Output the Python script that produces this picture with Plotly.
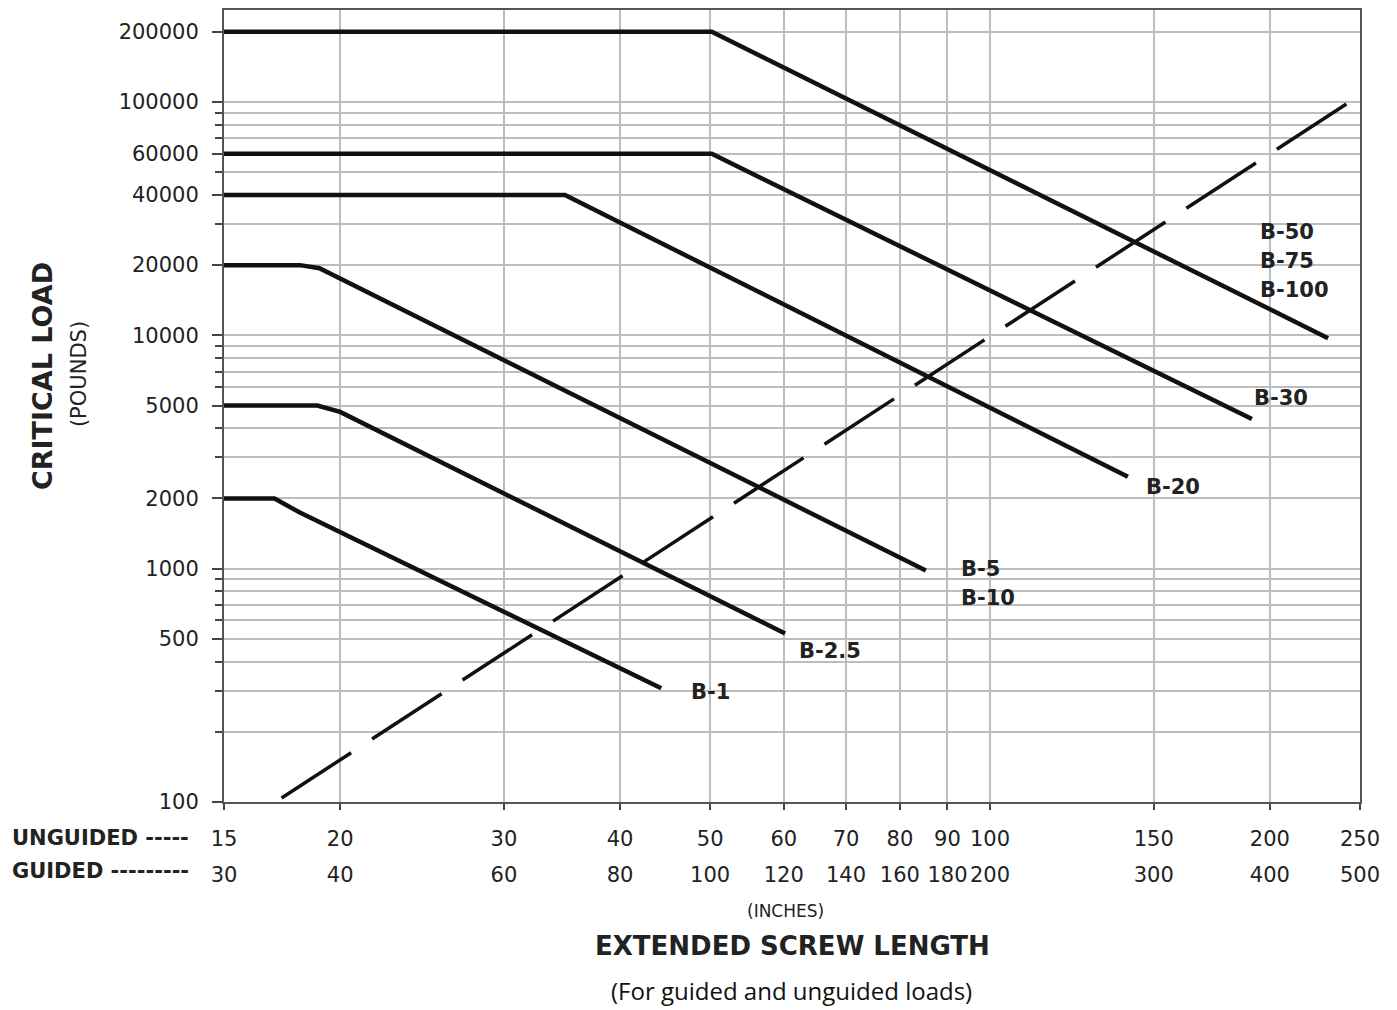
import plotly.graph_objects as go
import math

# ---------------- data ----------------
unguided_ticks = [15, 20, 30, 40, 50, 60, 70, 80, 90, 100, 150, 200, 250]
guided_ticks = [30, 40, 60, 80, 100, 120, 140, 160, 180, 200, 300, 400, 500]
load_ticks = [100, 500, 1000, 2000, 5000, 10000, 20000, 40000, 60000, 100000, 200000]
load_grid = [200, 300, 400, 500, 600, 700, 800, 900,
             1000, 2000, 3000, 4000, 5000, 6000, 7000, 8000, 9000,
             10000, 20000, 30000, 40000, 50000, 60000, 70000, 80000, 90000,
             100000, 200000]

b1_x = [15, 17.0, 18.1, 44.3]
b1_y = [2000, 2000, 1740, 307]
b25_x = [15, 18.9, 20.0, 60.2]
b25_y = [5000, 5000, 4700, 528]
b5_x = [15, 18.1, 19.0, 85.3]
b5_y = [20000, 20000, 19400, 982]
b20_x = [15, 34.9, 140.7]
b20_y = [40000, 40000, 2475]
b30_x = [15, 50.2, 191.3]
b30_y = [60000, 60000, 4383]
b50_x = [15, 50.2, 231]
b50_y = [200000, 200000, 9730]
limit_x = [17.3, 242]
limit_y = [104, 98400]

curve_labels = ["B-50", "B-75", "B-100", "B-30", "B-20", "B-5", "B-10", "B-2.5", "B-1"]

# ---------------- layout helpers ----------------
OFF = 8                       # page body margin
W, H = 1397 - OFF, 1010 - OFF
PL, PR, PT, PB = 224, 1360, 8, 802   # plot area in screen pixels
DEC = 233.9                   # pixels per decade on y


def px(x):
    return (x - PL) / (PR - PL)


def py(y):
    return (PB - y) / (PB - PT)


FONT = "DejaVu Sans"
TXT = "#222222"

fig = go.Figure()
series = [(b1_x, b1_y), (b25_x, b25_y), (b5_x, b5_y), (b20_x, b20_y),
          (b30_x, b30_y), (b50_x, b50_y)]
for xs, ys in series:
    fig.add_trace(go.Scatter(x=xs, y=ys, mode="lines",
                             line=dict(color="#111111", width=4.5),
                             showlegend=False, hoverinfo="skip"))
fig.add_trace(go.Scatter(x=limit_x, y=limit_y, mode="lines",
                         line=dict(color="#111111", width=3.5, dash="83px,25px"),
                         showlegend=False, hoverinfo="skip"))

label_pos = [(1258, 231), (1258, 260), (1258, 289), (1252, 397), (1144, 486),
             (959, 568), (959, 597), (797, 651), (689, 692)]
annotations = []
for txt, (lx, ly) in zip(curve_labels, label_pos):
    annotations.append(dict(x=px(lx), y=py(ly), xref="paper", yref="paper",
                            text="<b>%s</b>" % txt, showarrow=False,
                            xanchor="left", yanchor="middle",
                            font=dict(family=FONT, size=21, color=TXT)))

annotations += [
    dict(x=px(42), y=py(375), xref="paper", yref="paper", text="<b>CRITICAL LOAD</b>",
         textangle=-90, showarrow=False, xanchor="center", yanchor="middle",
         font=dict(family=FONT, size=27, color=TXT)),
    dict(x=px(79), y=py(373), xref="paper", yref="paper", text="(POUNDS)",
         textangle=-90, showarrow=False, xanchor="center", yanchor="middle",
         font=dict(family=FONT, size=21, color=TXT)),
    dict(x=px(785), y=py(911), xref="paper", yref="paper", text="(INCHES)",
         showarrow=False, xanchor="center", yanchor="middle",
         font=dict(family=FONT, size=17, color=TXT)),
    dict(x=px(792), y=py(946), xref="paper", yref="paper", text="<b>EXTENDED SCREW LENGTH</b>",
         showarrow=False, xanchor="center", yanchor="middle",
         font=dict(family=FONT, size=26, color=TXT)),
    dict(x=px(791), y=py(991), xref="paper", yref="paper", text="(For guided and unguided loads)",
         showarrow=False, xanchor="center", yanchor="middle",
         font=dict(family="Open Sans", size=24, color="#111111")),
    dict(x=px(10), y=py(838), xref="paper", yref="paper", text="<b>UNGUIDED -----</b>",
         showarrow=False, xanchor="left", yanchor="middle",
         font=dict(family=FONT, size=21, color=TXT)),
    dict(x=px(10), y=py(871), xref="paper", yref="paper", text="<b>GUIDED ---------</b>",
         showarrow=False, xanchor="left", yanchor="middle",
         font=dict(family=FONT, size=21, color=TXT)),
]

GRID = "#bdbdbd"
fig.update_layout(
    width=W, height=H, autosize=False,
    margin=dict(l=PL - OFF, r=W - (PR - OFF), t=PT - OFF, b=H - (PB - OFF), pad=0),
    paper_bgcolor="white", plot_bgcolor="white",
    annotations=annotations,
    xaxis=dict(type="log", range=[math.log10(15), math.log10(250)],
               tickvals=unguided_ticks, ticktext=[str(v) for v in unguided_ticks],
               showgrid=True, gridcolor=GRID, gridwidth=1.5,
               ticks="outside", ticklen=6, tickwidth=1.5, tickcolor="#444",
               ticklabelstandoff=11,
               tickfont=dict(family=FONT, size=21, color=TXT),
               showline=True, linecolor="#555", linewidth=2, mirror=True,
               zeroline=False),
    xaxis2=dict(type="log", range=[math.log10(30), math.log10(500)],
                overlaying="x", anchor="y", side="bottom",
                tickvals=guided_ticks, ticktext=[str(v) for v in guided_ticks],
                showgrid=False, ticks="", showline=False, zeroline=False,
                ticklabelstandoff=58,
                tickfont=dict(family=FONT, size=21, color=TXT)),
    yaxis=dict(type="log", range=[2, 2 + (PB - PT) / DEC],
               tickvals=load_ticks, ticktext=[str(v) for v in load_ticks],
               showgrid=True, gridcolor=GRID, gridwidth=1.5,
               ticks="outside", ticklen=10, tickwidth=1.5, tickcolor="#444",
               ticklabelstandoff=9,
               tickfont=dict(family=FONT, size=21, color=TXT),
               minor=dict(tickvals=load_grid, showgrid=True, gridcolor=GRID,
                          gridwidth=1.5, ticks="outside", ticklen=7,
                          tickcolor="#444", tickwidth=1.5),
               showline=True, linecolor="#555", linewidth=2, mirror=True,
               zeroline=False),
)
# invisible trace so the guided (x2) axis is rendered
fig.add_trace(go.Scatter(x=[30, 500], y=[100, 100], xaxis="x2", mode="lines",
                         line=dict(width=0), showlegend=False, hoverinfo="skip",
                         opacity=0))

fig.write_html("out.html")
